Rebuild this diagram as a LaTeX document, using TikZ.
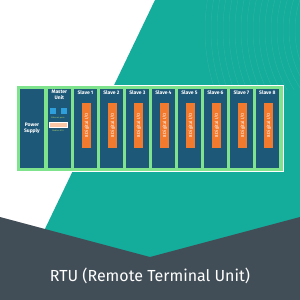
\documentclass[tikz,border=0pt]{standalone}
\usepackage{fontspec}
\setmainfont{Fira Sans}
\setsansfont{Fira Sans}
\usetikzlibrary{positioning,calc}
\definecolor{bgteal}{HTML}{14AC9B}
\definecolor{bgslate}{HTML}{424E57}
\definecolor{rackgreen}{HTML}{7FE28C}
\definecolor{moduleblue}{HTML}{1D5878}
\definecolor{ioorange}{HTML}{F27A2E}
\definecolor{portblue}{HTML}{2E9FDA}
\definecolor{serialpeach}{HTML}{F9C6A6}
\definecolor{notegreen}{HTML}{B8D86A}
\tikzset{
  font=\sffamily,
  swirl/.style={
    draw=white,
    opacity=0.09,
    line width=0.5pt
  },
  rack/.style={
    draw=white,
    line width=0.8pt,
    fill=rackgreen,
    anchor=north west,
    inner sep=0pt
  },
  module/.style={
    draw=rackgreen,
    line width=0.8pt,
    fill=moduleblue,
    anchor=north west,
    minimum width=24pt,
    minimum height=80pt,
    inner sep=0pt
  },
  modlabel/.style={
    font=\sffamily\bfseries\fontsize{5}{6}\selectfont,
    text=white,
    align=center,
    inner sep=0pt
  },
  iobar/.style={
    fill=ioorange,
    minimum width=9pt,
    minimum height=45pt,
    inner sep=0pt
  },
  iotext/.style={
    font=\sffamily\fontsize{4.5}{5}\selectfont,
    text=white,
    rotate=90,
    inner sep=0pt
  },
  port/.style={
    fill=portblue,
    minimum size=6pt,
    inner sep=0pt
  },
  serial/.style={
    fill=serialpeach,
    draw=white,
    line width=0.3pt,
    minimum width=18pt,
    minimum height=5pt,
    inner sep=0pt
  },
  note/.style={
    font=\sffamily\fontsize{2}{2.4}\selectfont,
    text=notegreen,
    inner sep=0pt
  },
  caption/.style={
    font=\sffamily\fontsize{16}{19}\selectfont,
    text=white
  }
}

\begin{document}
\begin{tikzpicture}[x=1pt,y=-1pt]
\useasboundingbox (0,0) rectangle (300,300);

% ---------------------------------------------------------------------------
% Background bands
% ---------------------------------------------------------------------------
\fill[white] (0,0) rectangle (300,300);
\fill[bgteal] (155,0) -- (300,0) -- (300,260) -- (30,260) -- cycle;
\begin{scope}
  \clip (155,0) -- (300,0) -- (300,90) -- (110,90) -- cycle;
  \foreach \r in {95,101,...,185}
    \draw[swirl] (390,30) circle (\r);
\end{scope}
\fill[bgslate] (0,217) -- (150,257) -- (300,217) -- (300,300) -- (0,300) -- cycle;

% ---------------------------------------------------------------------------
% RTU rack
% ---------------------------------------------------------------------------
\node[rack, minimum width=267pt, minimum height=86pt] (rtu) at (16,85) {};

% Power supply
\node[module, minimum width=25pt] (power) at (19,88) {};
\node[modlabel] (powerlabel) at (power.center) {Power\\Supply};

% Master unit
\node[module] (master) at (47,88) {};
\node[modlabel, below=2pt of master.north] (masterlabel) {Master\\Unit};
\node[port] (eth1) at (53,111) {};
\node[port] (eth2) at (63.5,111) {};
\node[note] (ethnote) at (58,118) {Ethernet ports};
\node[serial] (serialport) at (58,124.5) {};
\node[note] (modbusnote) at (58,131) {Modbus RTU};

% Slave modules
\foreach \i in {1,...,8} {
  \node[module] (slave\i) at ({73+26*(\i-1)},88) {};
  \node[modlabel, below=3pt of slave\i.north] (slavelabel\i) {Slave \i};
  \node[iobar] (io\i) at ($(slave\i.north)+(1.5,37.5)$) {};
  \node[iotext] (iolabel\i) at (io\i) {8 Digital I/O};
}

% ---------------------------------------------------------------------------
% Caption
% ---------------------------------------------------------------------------
\node[caption] (title) at (150,276) {RTU (Remote Terminal Unit)};

\end{tikzpicture}
\end{document}
